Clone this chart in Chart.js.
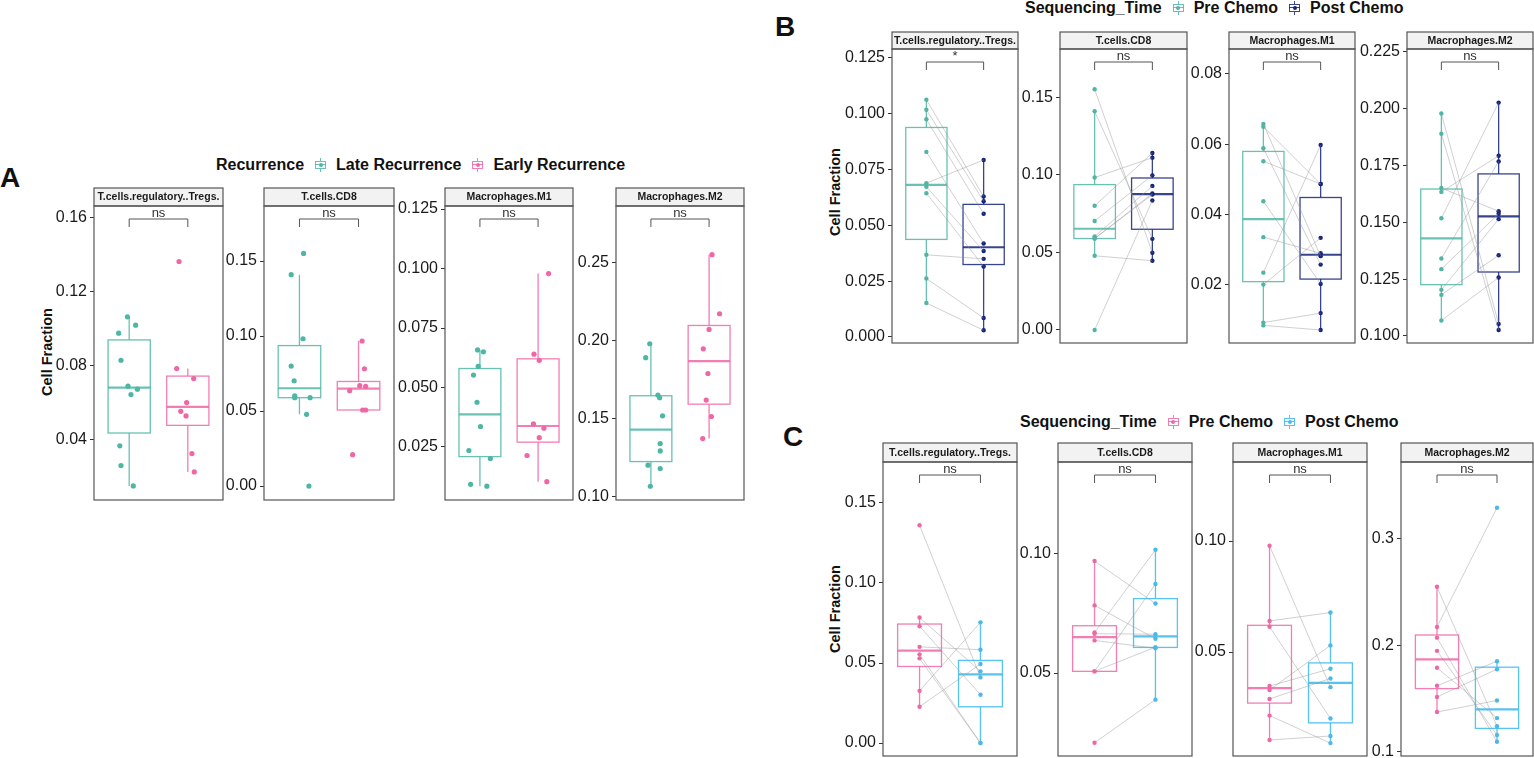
<!DOCTYPE html>
<html>
<head>
<meta charset="utf-8">
<script src="https://cdn.jsdelivr.net/npm/chart.js@4.4.1/dist/chart.umd.min.js"></script>
<style>
  body { margin: 0; width: 1534px; height: 758px; background: #fff; position: relative; overflow: hidden;
         font-family: "Liberation Sans", Arial, sans-serif; color: #111; }
  canvas.facet { position: absolute; }
  .tag { position: absolute; font-weight: bold; font-size: 28px; line-height: 28px; }
  .ylab { position: absolute; font-weight: bold; font-size: 14.5px; white-space: nowrap;
          transform: translate(-50%, -50%) rotate(-90deg); }
  .legend { position: absolute; display: flex; align-items: center; font-weight: bold; font-size: 16px;
            white-space: nowrap; transform: translateY(-50%); }
  .key { position: relative; width: 13px; height: 14px; margin: 0 9px 0 10px; }
  .key .wk { position: absolute; left: 6px; top: 0; width: 1px; height: 14px; }
  .key .bx { position: absolute; left: 1px; top: 3px; width: 9px; height: 6px; border: 1px solid; background: #fff; }
  .key .md { position: absolute; left: 1px; top: 6px; width: 11px; height: 1px; }
  .key .dt { position: absolute; left: 4.5px; top: 5px; width: 4px; height: 4px; border-radius: 50%; }
</style>
</head>
<body>

<div class="tag" style="left:0px; top:164px;">A</div>
<div class="tag" style="left:775px; top:13px;">B</div>
<div class="tag" style="left:783px; top:423px;">C</div>

<div class="ylab" style="left:47px; top:352px;">Cell Fraction</div>
<div class="ylab" style="left:835px; top:192px;">Cell Fraction</div>
<div class="ylab" style="left:835px; top:609px;">Cell Fraction</div>

<div id="legA" class="legend" style="left:216px; top:165px;"></div>
<div id="legB" class="legend" style="left:1025px; top:8px;"></div>
<div id="legC" class="legend" style="left:1020px; top:422px;"></div>

<script>
// facet titles, shared by the three panels
const facetNames = ['T.cells.regulatory..Tregs.', 'T.cells.CD8', 'Macrophages.M1', 'Macrophages.M2'];

// late recurrence, pre chemo (same patient order in every array)
const lateTregs = [0.1063, 0.1018, 0.0975, 0.0829, 0.0689, 0.0673, 0.0644, 0.0368, 0.0262, 0.0152];
const lateCD8 = [0.1551, 0.1409, 0.0982, 0.0800, 0.0702, 0.0602, 0.0589, 0.0589, 0.0478, 0.0000];
const lateM1 = [0.0658, 0.0650, 0.0589, 0.0552, 0.0438, 0.0336, 0.0235, 0.0201, 0.0093, 0.0085];
const lateM2 = [0.1979, 0.1890, 0.1651, 0.1634, 0.1518, 0.1341, 0.1294, 0.1203, 0.1181, 0.1068];

// late recurrence, post chemo (paired by index with the arrays above)
const latePostTregs = [0.0629, 0.0608, 0.0552, 0.0419, 0.0793, 0.0385, 0.0316, 0.0350, 0.0085, 0.0030];
const latePostCD8 = [0.0497, 0.0587, 0.1110, 0.1140, 0.0996, 0.0928, 0.0879, 0.0872, 0.0446, 0.0834];
const latePostM1 = [0.0282, 0.0487, 0.0258, 0.0487, 0.0203, 0.0290, 0.0598, 0.0334, 0.0120, 0.0072];
const latePostM2 = [0.1053, 0.1026, 0.1549, 0.1793, 0.2027, 0.1768, 0.1538, 0.1514, 0.1355, 0.1257];

// early recurrence, pre chemo
const earlyTregs = [0.1361, 0.0784, 0.0730, 0.0601, 0.0554, 0.0529, 0.0326, 0.0227];
const earlyCD8 = [0.0967, 0.0782, 0.0669, 0.0664, 0.0636, 0.0507, 0.0507, 0.0209];
const earlyM1 = [0.0979, 0.0640, 0.0614, 0.0347, 0.0329, 0.0289, 0.0214, 0.0104];
const earlyM2 = [0.2549, 0.2171, 0.2071, 0.1947, 0.1789, 0.1619, 0.1514, 0.1373];

// early recurrence, post chemo
const earlyPostTregs = [0.0410, 0.0448, 0.0302, 0.0583, 0.0000, 0.0000, 0.0754, 0.0494];
const earlyPostCD8 = [0.0790, 0.0643, 0.1014, 0.0662, 0.0603, 0.0871, 0.0608, 0.0389];
const earlyPostM1 = [0.0342, 0.0678, 0.0201, 0.0425, 0.0530, 0.0381, 0.0090, 0.0122];
const earlyPostM2 = [0.1240, 0.3290, 0.1094, 0.1156, 0.1316, 0.1850, 0.1775, 0.1481];

// horizontal jitter of the points in panel A (category units)
const jitLate = [
  [-0.03, 0.11, -0.18, -0.14, -0.02, 0.14, 0.03, -0.16, -0.14, 0.07],
  [0.07, -0.14, 0.06, -0.14, -0.09, -0.08, -0.08, 0.18, 0.12, 0.16],
  [-0.04, 0.06, -0.03, -0.11, -0.05, 0.01, -0.19, 0.18, -0.16, 0.12],
  [-0.02, -0.09, 0.12, 0.15, 0.20, 0.16, 0.16, -0.05, 0.16, -0.01]
];
const jitEarly = [
  [-0.15, -0.19, 0.10, -0.02, -0.12, -0.03, 0.07, 0.11],
  [0.06, 0.10, 0.02, 0.12, -0.15, 0.07, 0.12, -0.10],
  [0.18, -0.07, 0.02, -0.08, 0.10, 0.02, -0.19, 0.15],
  [0.05, 0.18, 0.00, -0.10, -0.02, -0.05, 0.04, -0.11]
];

// y tick labels
const ticksA = [['0.04', '0.08', '0.12', '0.16'], ['0.00', '0.05', '0.10', '0.15'],
  ['0.025', '0.050', '0.075', '0.100', '0.125'], ['0.10', '0.15', '0.20', '0.25']];
const ticksB = [['0.000', '0.025', '0.050', '0.075', '0.100', '0.125'], ['0.00', '0.05', '0.10', '0.15'],
  ['0.02', '0.04', '0.06', '0.08'], ['0.100', '0.125', '0.150', '0.175', '0.200', '0.225']];
const ticksC = [['0.00', '0.05', '0.10', '0.15'], ['0.05', '0.10'], ['0.05', '0.10'], ['0.1', '0.2', '0.3']];

// significance labels
const sigA = ['ns', 'ns', 'ns', 'ns'];
const sigB = ['*', 'ns', 'ns', 'ns'];
const sigC = ['ns', 'ns', 'ns', 'ns'];

// y ranges
const rangeA = [[0.0076, 0.166], [-0.0093, 0.1867], [0.0027, 0.1263], [0.098, 0.286]];
const rangeB = [[-0.0027, 0.129], [-0.0084, 0.181], [0.0035, 0.0871], [0.0969, 0.2263]];
const rangeC = [[-0.0081, 0.1756], [0.0154, 0.138], [0.0032, 0.1356], [0.096, 0.372]];

const TEAL = '#4DB6A5', PINK = '#F067A6', NAVY = '#16237A', SKY = '#45BCF0';
const BOX = { [TEAL]: 'rgba(77,182,165,0.85)', [PINK]: 'rgba(240,103,166,0.85)',
              [NAVY]: 'rgba(22,35,122,0.85)', [SKY]: 'rgba(69,188,240,0.9)' };

// pixel frames of the facet rows
const frames = {
  A: { stripTop: 188, top: 206, bottom: 500, x: [[94, 223], [264, 394], [445, 573], [616, 744]] },
  B: { stripTop: 32, top: 49, bottom: 343, x: [[892, 1018], [1060, 1187], [1229, 1355], [1407, 1533]] },
  C: { stripTop: 443, top: 462, bottom: 756, x: [[883, 1017], [1058, 1192], [1233, 1367], [1401, 1533]] }
};
const AXIS_W = 62, PAD_R = 4, PAD_B = 14;
const FONT = '"Liberation Sans", Arial, sans-serif';

function quantile(s, p) {
  const h = (s.length - 1) * p;
  const lo = Math.floor(h);
  const next = lo + 1 < s.length ? s[lo + 1] : s[lo];
  return s[lo] + (h - lo) * (next - s[lo]);
}

function boxStats(values) {
  const s = [...values].sort((a, b) => a - b);
  const q1 = quantile(s, 0.25), med = quantile(s, 0.5), q3 = quantile(s, 0.75);
  const iqr = q3 - q1;
  const lo = s.find(v => v >= q1 - 1.5 * iqr);
  const hi = [...s].reverse().find(v => v <= q3 + 1.5 * iqr);
  return { q1, med, q3, lo, hi };
}

const facetPlugin = {
  id: 'facet',
  beforeDatasetsDraw(chart, args, opts) {
    const { ctx, scales: { x, y } } = chart;
    ctx.save();
    opts.groups.forEach(g => {
      const st = boxStats(g.values);
      const cx = x.getPixelForValue(g.x);
      const hw = x.getPixelForValue(g.x + 0.36) - cx;
      const yq1 = y.getPixelForValue(st.q1), yq3 = y.getPixelForValue(st.q3), ym = y.getPixelForValue(st.med);
      ctx.strokeStyle = BOX[g.color];
      ctx.lineWidth = 1.3;
      ctx.beginPath();
      ctx.moveTo(cx, y.getPixelForValue(st.hi)); ctx.lineTo(cx, yq3);
      ctx.moveTo(cx, yq1); ctx.lineTo(cx, y.getPixelForValue(st.lo));
      ctx.stroke();
      ctx.fillStyle = '#fff';
      ctx.fillRect(cx - hw, yq3, 2 * hw, yq1 - yq3);
      ctx.strokeRect(cx - hw, yq3, 2 * hw, yq1 - yq3);
      ctx.lineWidth = 2.2;
      ctx.beginPath(); ctx.moveTo(cx - hw, ym); ctx.lineTo(cx + hw, ym); ctx.stroke();
    });
    ctx.restore();
  },
  afterDraw(chart, args, opts) {
    const { ctx, chartArea: a, scales: { x } } = chart;
    ctx.save();
    // strip
    ctx.fillStyle = '#F2F2F2';
    ctx.fillRect(a.left, a.top - opts.stripH, a.width, opts.stripH);
    ctx.strokeStyle = '#555';
    ctx.lineWidth = 1.2;
    ctx.strokeRect(a.left, a.top - opts.stripH, a.width, opts.stripH);
    ctx.fillStyle = '#1a1a1a';
    ctx.font = 'bold 10.5px ' + FONT;
    ctx.textAlign = 'center';
    ctx.textBaseline = 'middle';
    ctx.fillText(opts.title, (a.left + a.right) / 2, a.top - opts.stripH / 2 + 0.5);
    // panel border
    ctx.strokeRect(a.left, a.top, a.width, a.height);
    // bracket
    const x1 = x.getPixelForValue(1), x2 = x.getPixelForValue(2);
    const yb = a.top + 13;
    ctx.strokeStyle = '#555';
    ctx.lineWidth = 1;
    ctx.beginPath();
    ctx.moveTo(x1, yb + 8); ctx.lineTo(x1, yb); ctx.lineTo(x2, yb); ctx.lineTo(x2, yb + 8);
    ctx.stroke();
    ctx.fillStyle = '#333';
    ctx.font = '13px ' + FONT;
    ctx.textBaseline = 'alphabetic';
    ctx.fillText(opts.sig, (x1 + x2) / 2, a.top + 11);
    ctx.restore();
  }
};
Chart.register(facetPlugin);

function makeFacet(frame, i, cfg) {
  const [left, right] = frame.x[i];
  const stripH = frame.top - frame.stripTop;
  const canvas = document.createElement('canvas');
  canvas.className = 'facet';
  canvas.width = AXIS_W + (right - left) + PAD_R;
  canvas.height = 1 + (frame.bottom - frame.stripTop) + PAD_B;
  canvas.style.left = (left - AXIS_W) + 'px';
  canvas.style.top = (frame.stripTop - 1) + 'px';
  document.body.appendChild(canvas);

  const labels = cfg.ticks;
  new Chart(canvas, {
    type: 'scatter',
    data: { datasets: cfg.datasets },
    options: {
      responsive: false,
      animation: false,
      events: [],
      layout: { padding: { left: 0, top: 1 + stripH, right: PAD_R, bottom: PAD_B } },
      plugins: {
        legend: { display: false },
        tooltip: { enabled: false },
        facet: { title: facetNames[i], sig: cfg.sig, stripH, groups: cfg.groups }
      },
      scales: {
        x: { type: 'linear', min: 0.4, max: 2.6, display: false },
        y: {
          type: 'linear', min: cfg.range[0], max: cfg.range[1],
          afterBuildTicks: s => { s.ticks = labels.map(t => ({ value: parseFloat(t) })); },
          afterFit: s => { s.width = AXIS_W; },
          ticks: { autoSkip: false, padding: 3, color: '#1a1a1a', callback: (v, k) => labels[k],
                   font: { size: 16, family: FONT } },
          grid: { drawOnChartArea: false, drawTicks: true, tickLength: 4, tickColor: '#333' },
          border: { display: false }
        }
      }
    }
  });
}

function jitterSet(values, jit, xc, color) {
  return { data: values.map((v, k) => ({ x: xc + jit[k], y: v })), backgroundColor: color,
           pointRadius: 2.6, pointBorderWidth: 0 };
}

function pairedSets(pre, post, c1, c2) {
  const sets = pre.map((v, k) => ({
    data: [{ x: 1, y: v }, { x: 2, y: post[k] }], showLine: true,
    borderColor: 'rgba(150,150,150,0.45)', borderWidth: 1, pointRadius: 0
  }));
  sets.push({ data: pre.map(v => ({ x: 1, y: v })), backgroundColor: c1, pointRadius: 2.2, pointBorderWidth: 0 });
  sets.push({ data: post.map(v => ({ x: 2, y: v })), backgroundColor: c2, pointRadius: 2.2, pointBorderWidth: 0 });
  return sets;
}

const latePre = [lateTregs, lateCD8, lateM1, lateM2];
const latePost = [latePostTregs, latePostCD8, latePostM1, latePostM2];
const earlyPre = [earlyTregs, earlyCD8, earlyM1, earlyM2];
const earlyPost = [earlyPostTregs, earlyPostCD8, earlyPostM1, earlyPostM2];

for (let i = 0; i < 4; i++) {
  makeFacet(frames.A, i, {
    ticks: ticksA[i], range: rangeA[i], sig: sigA[i],
    groups: [{ x: 1, values: latePre[i], color: TEAL }, { x: 2, values: earlyPre[i], color: PINK }],
    datasets: [jitterSet(latePre[i], jitLate[i], 1, TEAL), jitterSet(earlyPre[i], jitEarly[i], 2, PINK)]
  });
  makeFacet(frames.B, i, {
    ticks: ticksB[i], range: rangeB[i], sig: sigB[i],
    groups: [{ x: 1, values: latePre[i], color: TEAL }, { x: 2, values: latePost[i], color: NAVY }],
    datasets: pairedSets(latePre[i], latePost[i], TEAL, NAVY)
  });
  makeFacet(frames.C, i, {
    ticks: ticksC[i], range: rangeC[i], sig: sigC[i],
    groups: [{ x: 1, values: earlyPre[i], color: PINK }, { x: 2, values: earlyPost[i], color: SKY }],
    datasets: pairedSets(earlyPre[i], earlyPost[i], PINK, SKY)
  });
}

// legends
function keyHtml(color) {
  return '<span class="key"><span class="wk" style="background:' + BOX[color] + '"></span>' +
    '<span class="bx" style="border-color:' + BOX[color] + '"></span>' +
    '<span class="md" style="background:' + BOX[color] + '"></span>' +
    '<span class="dt" style="background:' + color + '"></span></span>';
}
function fillLegend(id, title, items) {
  document.getElementById(id).innerHTML = '<span>' + title + '</span>' +
    items.map(it => keyHtml(it[1]) + '<span>' + it[0] + '</span>').join('');
}
fillLegend('legA', 'Recurrence', [['Late Recurrence', TEAL], ['Early Recurrence', PINK]]);
fillLegend('legB', 'Sequencing_Time', [['Pre Chemo', TEAL], ['Post Chemo', NAVY]]);
fillLegend('legC', 'Sequencing_Time', [['Pre Chemo', PINK], ['Post Chemo', SKY]]);
</script>
</body>
</html>
